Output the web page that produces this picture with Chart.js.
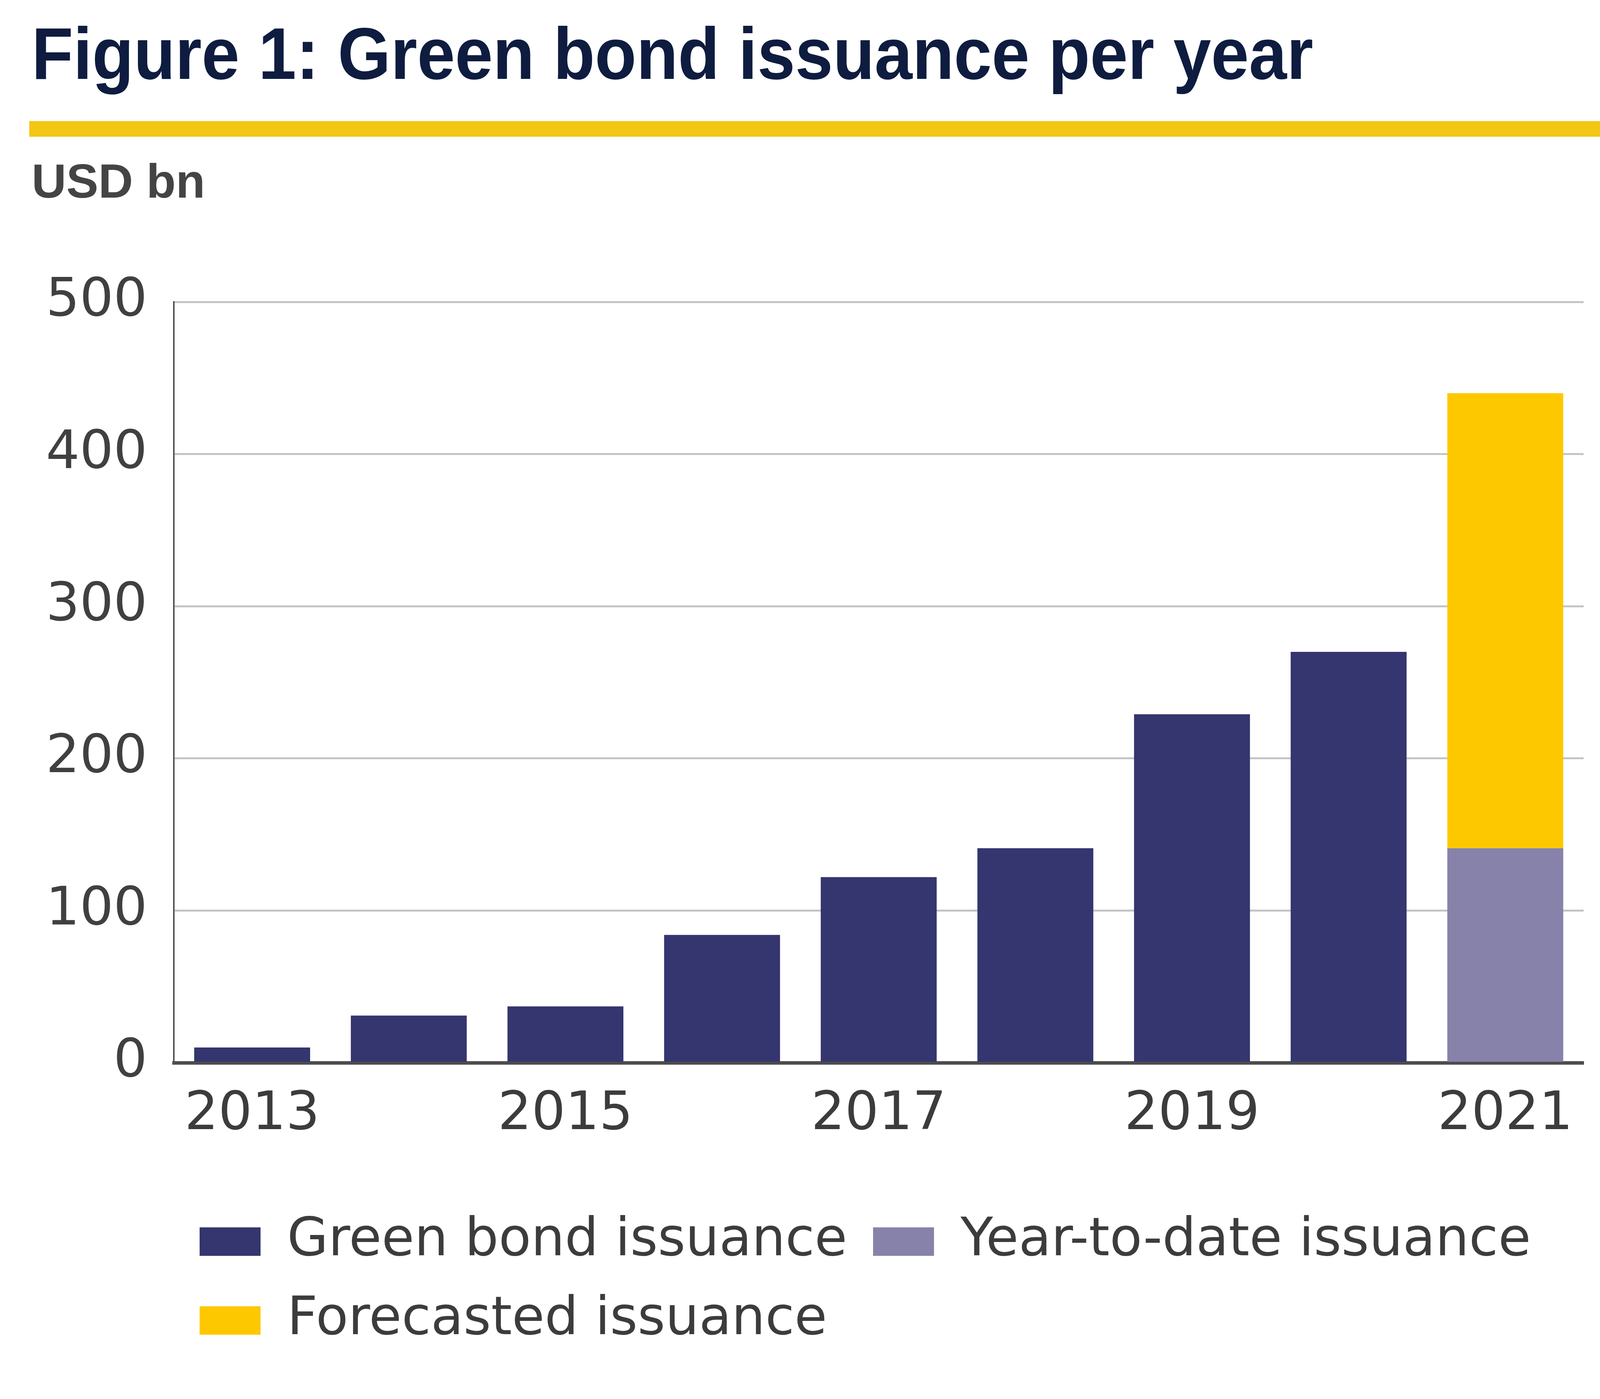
<!DOCTYPE html>
<html lang="en">
<head>
<meta charset="UTF-8"/>
<title>Green bond issuance per year</title>
<script src="https://cdn.jsdelivr.net/npm/chart.js"></script>
<style>
  html, body { margin: 0; padding: 0; background: #fff; }
  body { width: 4224px; height: 3582px; position: relative; overflow: hidden; }
  #title {
    position: absolute; left: 81px; top: 43px; margin: 0;
    font: bold 188px/188px "Liberation Sans", Arial, sans-serif;
    color: #0e1c40; white-space: nowrap; transform-origin: left top;
  }
  #rule { position: absolute; left: 75px; top: 310px; width: 4052px; height: 40px; background: #f3c613; }
  #unit {
    position: absolute; left: 81px; top: 402px;
    font: bold 123px/123px "Liberation Sans", Arial, sans-serif; color: #444;
  }
  #chart { position: absolute; left: 0; top: 0; }
</style>
<script>
  // values, USD bn
  const years = ["2013", "2014", "2015", "2016", "2017", "2018", "2019", "2020", "2021"];
  const issued = [10, 31, 37, 84, 122, 141, 229, 270, null];
  const yearToDate = [null, null, null, null, null, null, null, null, 141];
  const forecast = [null, null, null, null, null, null, null, null, 299];
  const yTicks = [0, 100, 200, 300, 400, 500];

  const navy = "#35356f";
  const lavender = "#8682aa";
  const yellow = "#fec800";

  window.addEventListener("load", function() {
    // squeeze the title to the width it has in the figure
    const t = document.getElementById("title");
    t.style.transform = "scaleX(" + (3281 / t.offsetWidth) + ")";

    Chart.defaults.font.family = "'DejaVu Sans', sans-serif";
    Chart.defaults.font.size = 136;
    Chart.defaults.color = "#3c3c3c";

    const ctx = document.getElementById("chart").getContext("2d");
    new Chart(ctx, {
      type: "bar",
      data: {
        labels: years,
        datasets: [
          { label: "Green bond issuance", data: issued, backgroundColor: navy },
          { label: "Year-to-date issuance", data: yearToDate, backgroundColor: lavender },
          { label: "Forecasted issuance", data: forecast, backgroundColor: yellow }
        ]
      },
      options: {
        responsive: false,
        devicePixelRatio: 1,
        animation: false,
        datasets: { bar: { categoryPercentage: 1, barPercentage: 0.74 } },
        layout: { padding: { left: 0, right: 170, top: 773, bottom: 123 } },
        plugins: {
          tooltip: { enabled: false },
          legend: {
            position: "bottom",
            align: "start",
            fullSize: false,
            labels: {
              boxWidth: 156,
              boxHeight: 73,
              padding: 66,
              color: "#3c3c3c",
              font: { size: 136 }
            }
          }
        },
        scales: {
          x: {
            stacked: true,
            grid: { display: false },
            border: { display: true, color: "#4d4d4d", width: 9 },
            ticks: {
              autoSkip: false,
              maxRotation: 0,
              padding: 45,
              callback: function(v, i) { return i % 2 === 0 ? years[i] : ""; }
            },
            afterFit: function(scale) { scale.height = 324; }
          },
          y: {
            stacked: true,
            min: 0,
            max: 500,
            afterBuildTicks: function(scale) { scale.ticks = yTicks.map(v => ({ value: v })); },
            grid: {
              drawTicks: false,
              lineWidth: 5,
              color: c => c.tick && c.tick.value === 0 ? "rgba(0,0,0,0)" : "#c4c4c4"
            },
            border: { color: "#555", width: 4 },
            ticks: { padding: 68, color: "#404040" },
            afterFit: function(scale) { scale.width = 445; }
          }
        }
      }
    });
  }, false);
</script>
</head>
<body>
  <h1 id="title">Figure 1: Green bond issuance per year</h1>
  <div id="rule"></div>
  <div id="unit">USD bn</div>
  <canvas id="chart" width="4224" height="3582"></canvas>
</body>
</html>
